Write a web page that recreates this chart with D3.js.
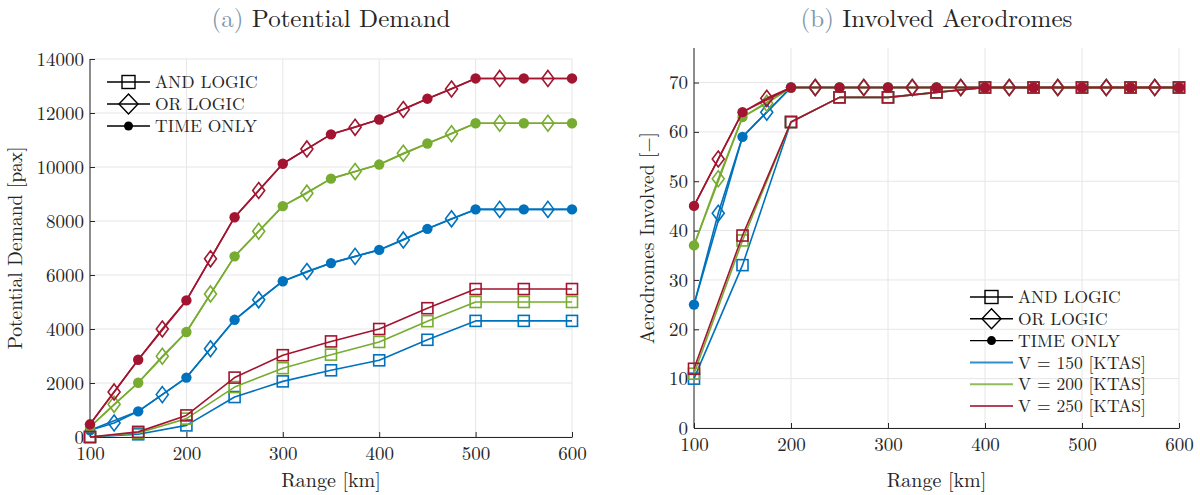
<!DOCTYPE html>
<html>
<head>
<meta charset="utf-8">
<script src="https://cdn.jsdelivr.net/npm/d3@7"></script>
<style>
  body { margin: 0; background: #fff; }
  svg text { font-family: "Latin Modern Roman", "CMU Serif", "Liberation Serif", serif; fill: #262626; }
</style>
</head>
<body>
<svg id="chart" width="1200" height="495"></svg>
<script>
// range steps (km)
const rangeFine = [100, 125, 150, 175, 200, 225, 250, 275, 300, 325, 350, 375, 400, 425, 450, 475, 500, 525, 550, 575, 600];
const rangeCoarse = [100, 150, 200, 250, 300, 350, 400, 450, 500, 550, 600];

const speeds = ["V = 150 [KTAS]", "V = 200 [KTAS]", "V = 250 [KTAS]"];
const colors = ["#0072BD", "#77AC30", "#A2142F"];

// (a) potential demand [pax]
const demandAnd150 = [0, 100, 430, 1480, 2060, 2470, 2840, 3600, 4300, 4300, 4300];
const demandAnd200 = [0, 150, 680, 1850, 2550, 3050, 3520, 4290, 5000, 5000, 5000];
const demandAnd250 = [0, 190, 800, 2200, 3030, 3540, 4000, 4770, 5480, 5480, 5480];
const demandOr150 = [250, 520, 950, 1570, 2200, 3270, 4340, 5080, 5770, 6130, 6440, 6690, 6930, 7300, 7710, 8080, 8430, 8430, 8430, 8430, 8430];
const demandOr200 = [370, 1210, 2010, 2990, 3890, 5300, 6690, 7620, 8550, 9030, 9570, 9830, 10090, 10510, 10870, 11230, 11620, 11620, 11620, 11620, 11620];
const demandOr250 = [470, 1670, 2860, 4000, 5060, 6600, 8140, 9130, 10120, 10670, 11210, 11470, 11760, 12130, 12530, 12890, 13280, 13280, 13280, 13280, 13280];
const demandTime150 = [250, 950, 2200, 4340, 5770, 6440, 6930, 7710, 8430, 8430, 8430];
const demandTime200 = [370, 2010, 3890, 6690, 8550, 9570, 10090, 10870, 11620, 11620, 11620];
const demandTime250 = [470, 2860, 5060, 8140, 10120, 11210, 11760, 12530, 13280, 13280, 13280];

// (b) aerodromes involved [-]
const aeroAnd150 = [10, 33, 62, 67, 67, 68, 69, 69, 69, 69, 69];
const aeroAnd200 = [11, 38, 62, 67, 67, 68, 69, 69, 69, 69, 69];
const aeroAnd250 = [12, 39, 62, 67, 67, 68, 69, 69, 69, 69, 69];
const aeroOr150 = [25, 43.5, 59, 64, 69, 69, 69, 69, 69, 69, 69, 69, 69, 69, 69, 69, 69, 69, 69, 69, 69];
const aeroOr200 = [37, 50.5, 63, 65.8, 69, 69, 69, 69, 69, 69, 69, 69, 69, 69, 69, 69, 69, 69, 69, 69, 69];
const aeroOr250 = [45, 54.5, 64, 66.8, 69, 69, 69, 69, 69, 69, 69, 69, 69, 69, 69, 69, 69, 69, 69, 69, 69];
const aeroTime150 = [25, 59, 69, 69, 69, 69, 69, 69, 69, 69, 69];
const aeroTime200 = [37, 63, 69, 69, 69, 69, 69, 69, 69, 69, 69];
const aeroTime250 = [45, 64, 69, 69, 69, 69, 69, 69, 69, 69, 69];

const xTicks = [100, 200, 300, 400, 500, 600];
const demandTicks = [0, 2000, 4000, 6000, 8000, 10000, 12000, 14000];
const aeroTicks = [0, 10, 20, 30, 40, 50, 60, 70];

const svg = d3.select("#chart");
const LW = 1.6;

function marker(g, type, x, y, color) {
  if (type === "square") {
    g.append("rect").attr("x", x - 5.5).attr("y", y - 5.5).attr("width", 11).attr("height", 11)
      .attr("fill", "none").attr("stroke", color).attr("stroke-width", LW);
  } else if (type === "diamond") {
    g.append("path").attr("d", `M${x},${y - 8}L${x + 6},${y}L${x},${y + 8}L${x - 6},${y}Z`)
      .attr("fill", "none").attr("stroke", color).attr("stroke-width", LW);
  } else {
    g.append("circle").attr("cx", x).attr("cy", y).attr("r", 5.2).attr("fill", color);
  }
}

function panel(cfg) {
  const x = d3.scaleLinear().domain([100, 600]).range([cfg.left, cfg.right]);
  const y = d3.scaleLinear().domain(cfg.yDomain).range([cfg.bottom, cfg.top]);
  const g = svg.append("g");

  // grid
  g.selectAll(".gx").data(xTicks).join("line")
    .attr("x1", d => x(d)).attr("x2", d => x(d)).attr("y1", cfg.bottom).attr("y2", cfg.top)
    .attr("stroke", "#e6e6e6").attr("stroke-width", 1);
  g.selectAll(".gy").data(cfg.yTicks).join("line")
    .attr("x1", cfg.left).attr("x2", cfg.right).attr("y1", d => y(d)).attr("y2", d => y(d))
    .attr("stroke", "#e6e6e6").attr("stroke-width", 1);

  // axes
  const xa = g.append("g").attr("transform", `translate(0,${cfg.bottom})`)
    .call(d3.axisBottom(x).tickValues(xTicks).tickFormat(d3.format("d")).tickSizeInner(-5).tickSizeOuter(0).tickPadding(10));
  const ya = g.append("g").attr("transform", `translate(${cfg.left},0)`)
    .call(d3.axisLeft(y).tickValues(cfg.yTicks).tickFormat(d3.format("d")).tickSizeInner(-5).tickSizeOuter(0).tickPadding(6));
  [xa, ya].forEach(a => {
    a.select(".domain").attr("stroke", "#262626").attr("stroke-width", 1);
    a.selectAll(".tick line").attr("stroke", "#262626");
    a.selectAll("text").style("font-size", "19px").attr("fill", "#262626");
  });
  ya.select(".domain").attr("d", `M0,${cfg.bottom}V${cfg.top}`);

  // series
  const line = d3.line().x(d => x(d[0])).y(d => y(d[1]));
  for (let i = 0; i < 3; i++) {
    const c = colors[i];
    const andPts = rangeCoarse.map((r, k) => [r, cfg.and[i][k]]);
    const orPts = rangeFine.map((r, k) => [r, cfg.or[i][k]]);
    const timePts = rangeCoarse.map((r, k) => [r, cfg.time[i][k]]);
    [andPts, orPts, timePts].forEach(p => {
      g.append("path").datum(p).attr("d", line).attr("fill", "none")
        .attr("stroke", c).attr("stroke-width", LW).attr("stroke-linejoin", "round");
    });
    andPts.forEach(p => marker(g, "square", x(p[0]), y(p[1]), c));
    orPts.forEach((p, k) => { if (k % 2 === 1) marker(g, "diamond", x(p[0]), y(p[1]), c); });
    timePts.forEach(p => marker(g, "circle", x(p[0]), y(p[1]), c));
  }

  // labels
  const cx = (cfg.left + cfg.right) / 2;
  const t = g.append("text").attr("x", cx).attr("y", 27).attr("text-anchor", "middle").style("font-size", "25px");
  t.append("tspan").style("fill", "#7f98ae").text(cfg.tag + " ");
  t.append("tspan").text(cfg.title);
  g.append("text").attr("x", cx).attr("y", 487).attr("text-anchor", "middle").style("font-size", "20px").text("Range [km]");
  g.append("text").attr("transform", `translate(${cfg.yLabelX},${(cfg.top + cfg.bottom) / 2}) rotate(-90)`)
    .attr("text-anchor", "middle").style("font-size", "19.5px").text(cfg.yLabel);

  // legend
  const lg = g.append("g");
  const entries = [["square", "AND LOGIC"], ["diamond", "OR LOGIC"], ["circle", "TIME ONLY"]];
  const rows = entries.map(e => ({ type: e[0], label: e[1], color: "#000" }));
  if (cfg.speedLegend) speeds.forEach((s, i) => rows.push({ type: null, label: s, color: colors[i] }));
  rows.forEach((r, i) => {
    const yy = cfg.legY + i * cfg.legStep;
    lg.append("line").attr("x1", cfg.legX).attr("x2", cfg.legX + 43).attr("y1", yy).attr("y2", yy)
      .attr("stroke", r.color).attr("stroke-width", r.type ? 1.4 : 2).attr("opacity", r.type ? 1 : 0.8);
    if (r.type) {
      if (r.type === "circle") {
        lg.append("circle").attr("cx", cfg.legX + 21.5).attr("cy", yy).attr("r", 4.5).attr("fill", "#000");
      } else if (r.type === "square") {
        lg.append("rect").attr("x", cfg.legX + 15).attr("y", yy - 6.5).attr("width", 13).attr("height", 13)
          .attr("fill", "none").attr("stroke", "#000").attr("stroke-width", 1.4);
      } else {
        lg.append("path").attr("d", `M${cfg.legX + 21.5},${yy - 10}L${cfg.legX + 31},${yy}L${cfg.legX + 21.5},${yy + 10}L${cfg.legX + 12},${yy}Z`)
          .attr("fill", "none").attr("stroke", "#000").attr("stroke-width", 1.4);
      }
    }
    lg.append("text").attr("x", cfg.legX + 48).attr("y", yy).attr("dy", "0.35em").style("font-size", "17.5px").text(r.label);
  });
}

panel({
  left: 90, right: 572, top: 59, bottom: 437, yDomain: [0, 14000], yTicks: demandTicks,
  and: [demandAnd150, demandAnd200, demandAnd250],
  or: [demandOr150, demandOr200, demandOr250],
  time: [demandTime150, demandTime200, demandTime250],
  tag: "(a)", title: "Potential Demand", yLabel: "Potential Demand [pax]", yLabelX: 22,
  legX: 107, legY: 82, legStep: 22, speedLegend: false
});

panel({
  left: 694, right: 1179, top: 48, bottom: 428, yDomain: [0, 77], yTicks: aeroTicks,
  and: [aeroAnd150, aeroAnd200, aeroAnd250],
  or: [aeroOr150, aeroOr200, aeroOr250],
  time: [aeroTime150, aeroTime200, aeroTime250],
  tag: "(b)", title: "Involved Aerodromes", yLabel: "Aerodromes Involved [\u2212]", yLabelX: 654,
  legX: 970, legY: 297, legStep: 21.8, speedLegend: true
});
</script>
</body>
</html>
